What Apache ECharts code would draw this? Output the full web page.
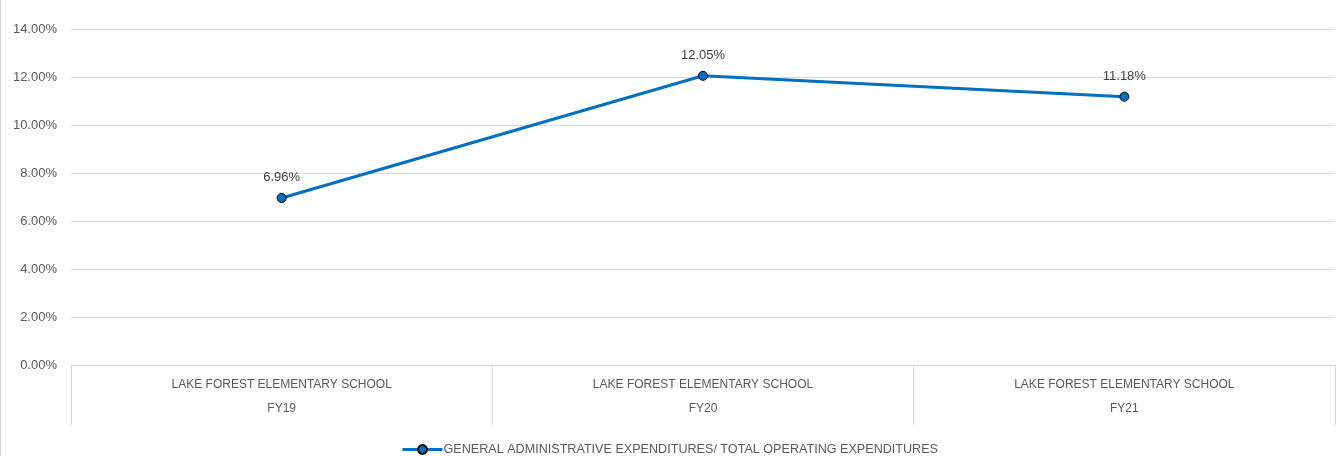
<!DOCTYPE html>
<html><head><meta charset="utf-8">
<script src="https://cdn.jsdelivr.net/npm/echarts@6/dist/echarts.min.js"></script>
<style>html,body{margin:0;padding:0;background:#fff}#c{width:1337px;height:456px;border-left:1px solid #d9d9d9}</style>
</head><body><div id="c"></div>
<script>
const schools = ['LAKE FOREST ELEMENTARY SCHOOL','LAKE FOREST ELEMENTARY SCHOOL','LAKE FOREST ELEMENTARY SCHOOL'];
const years = ['FY19','FY20','FY21'];
const seriesName = 'GENERAL ADMINISTRATIVE EXPENDITURES/ TOTAL OPERATING EXPENDITURES';
const values = [6.96, 12.05, 11.18];
const categories = years.map((y,i)=>schools[i]+'\n'+y);
const FONT = '"Liberation Sans", Arial, sans-serif';
const chart = echarts.init(document.getElementById('c'));
chart.setOption({
  animation:false,
  textStyle:{fontFamily:FONT},
  grid:{left:70,right:3,top:29,bottom:91},
  legend:{top:438,left:'center',itemWidth:40,itemHeight:11,itemGap:0,
    lineStyle:{width:3},
    textStyle:{color:'#595959',fontSize:12.6,fontFamily:FONT,padding:[0,0,0,-4]},data:[seriesName]},
  xAxis:{type:'category',data:categories,boundaryGap:true,
    axisLine:{lineStyle:{color:'#d9d9d9',width:1}},
    axisTick:{show:true,interval:0,length:60,lineStyle:{color:'#d9d9d9'}},
    axisLabel:{interval:0,margin:8,lineHeight:24,color:'#595959',fontSize:12,fontFamily:FONT}},
  yAxis:{type:'value',min:0,max:14,interval:2,
    axisLine:{show:false},axisTick:{show:false},
    splitLine:{lineStyle:{color:'#d9d9d9',width:1}},
    axisLabel:{margin:14,color:'#595959',fontSize:13,fontFamily:FONT,formatter:v=>v.toFixed(2)+'%'}},
  series:[{name:seriesName,type:'line',data:values,
    lineStyle:{color:'#0070C0',width:3},
    symbol:'circle',symbolSize:9,
    itemStyle:{color:'#0070C0',borderColor:'#000',borderWidth:1},
    label:{show:true,position:'top',distance:9,color:'#404040',fontSize:13,fontFamily:FONT,
      formatter:p=>p.value.toFixed(2)+'%'}}]
});
</script></body></html>
